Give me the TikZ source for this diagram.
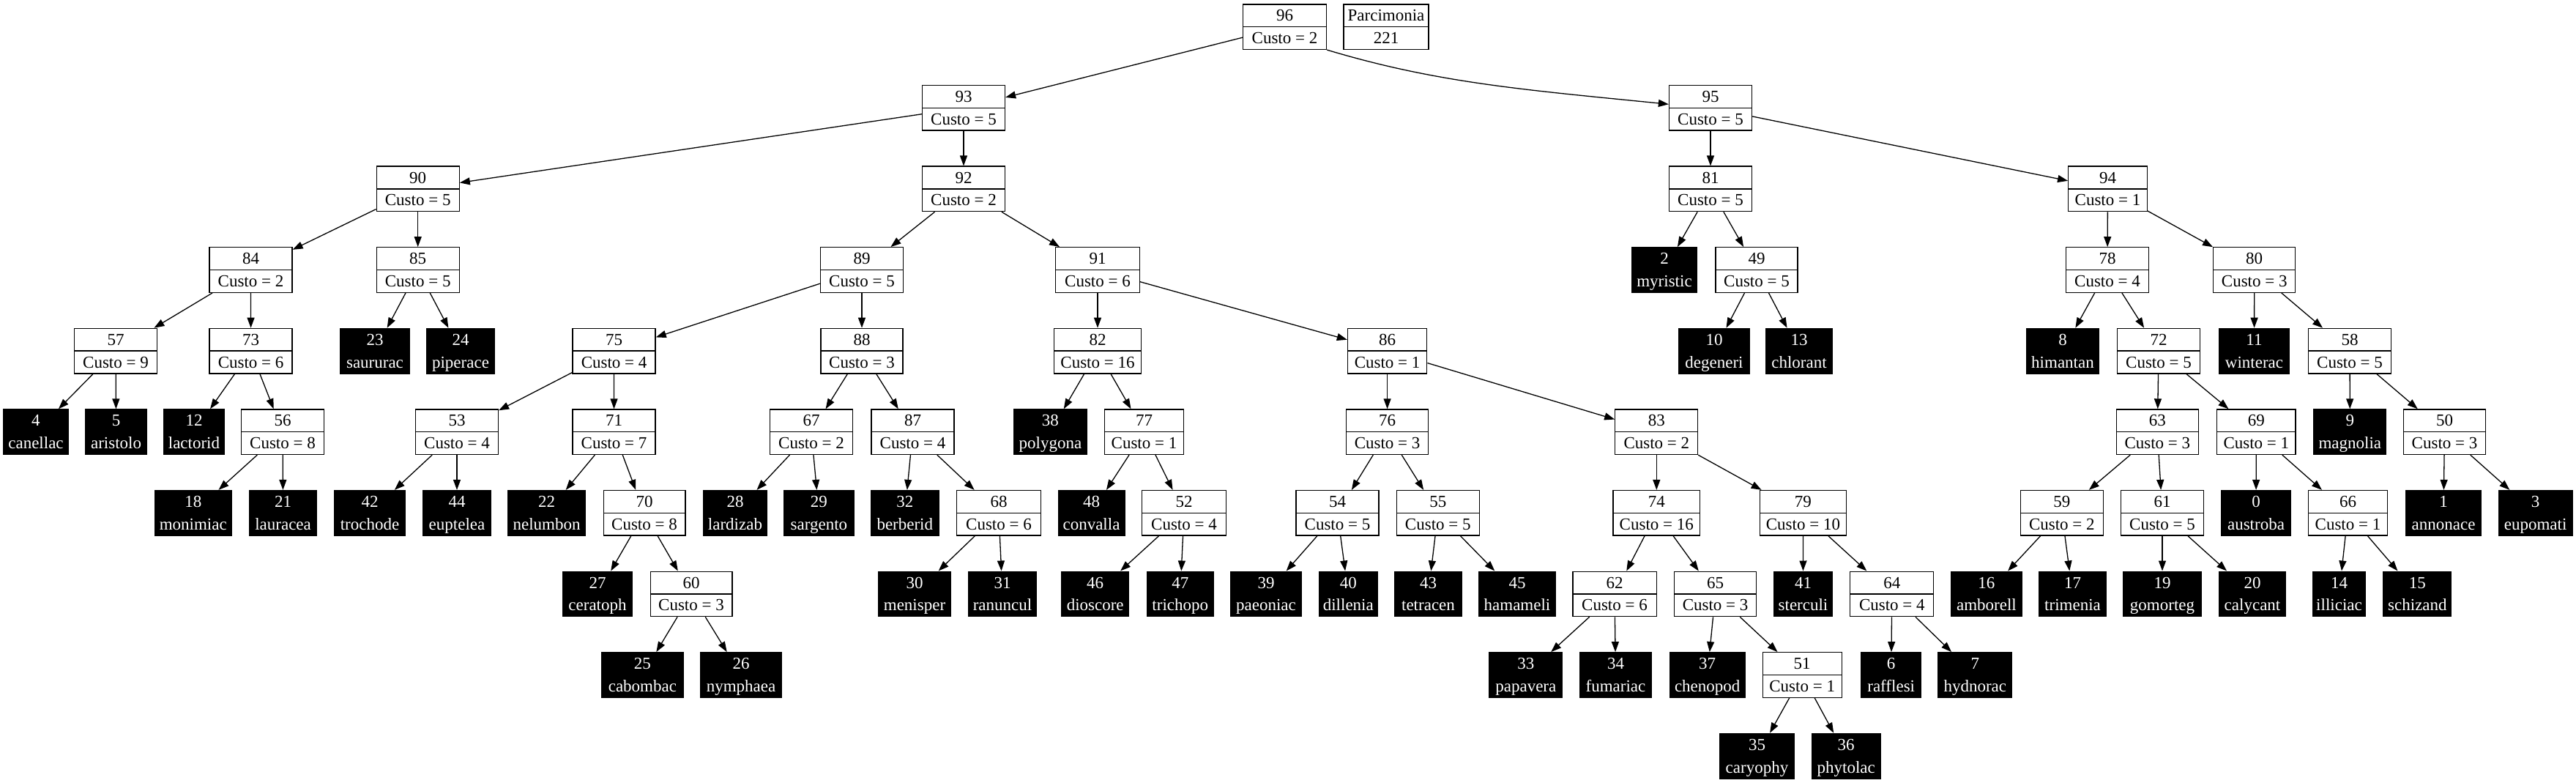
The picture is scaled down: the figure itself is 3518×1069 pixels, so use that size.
\documentclass[tikz,border=0pt]{standalone}
\usepackage{fontspec}
\setmainfont{Liberation Serif}
\usetikzlibrary{arrows.meta}

\begin{document}
\begin{tikzpicture}[x=0.5pt, y=-0.5pt, line width=0.65pt]

	\useasboundingbox (0,0) rectangle (3518,1069);

	\tikzset{
		box/.style={rectangle, draw=black, inner sep=0pt, minimum height=30.75pt,
			align=center, font=\fontsize{11.5}{15.4}\selectfont},
		costbox/.style={box, fill=white,
			path picture={\draw (path picture bounding box.west) -- (path picture bounding box.east);}},
		taxonbox/.style={box, fill=black, text=white},
		branch/.style={-{Triangle[length=7pt, width=5pt]}}
	}

	% --- helper macros (widths in px, levels from the top) ---
	\newcommand{\lvl}[1]{36.7+110.6*#1}
	\newcommand{\twoline}[2]{#1\\\smash{#2}}
	\newcommand{\cnode}[5][113]{\node[costbox, minimum width=#1*0.5pt] (n#2) at (#3,{\lvl{#4}}) {\twoline{#2}{Custo = #5}};}
	\newcommand{\tnode}[5]{\node[taxonbox, minimum width=#4*0.5pt] (n#1) at (#2,{\lvl{#3}}) {\twoline{#1}{#5}};}

	% level 0
	\cnode[114]{96}{1754.5}{0}{2}
	\node[costbox, minimum width=116*0.5pt] (parc) at (1893,{\lvl{0}}) {\twoline{Parcimonia}{221}};

	% level 1
	\cnode{93}{1316}{1}{5}
	\cnode{95}{2336}{1}{5}

	% level 2
	\cnode{90}{570.7}{2}{5}
	\cnode{92}{1316}{2}{2}
	\cnode{81}{2336}{2}{5}
	\cnode[107.6]{94}{2878.5}{2}{1}

	% level 3
	\cnode{84}{342.5}{3}{2}
	\cnode{85}{570.7}{3}{5}
	\cnode{89}{1177}{3}{5}
	\cnode[114.7]{91}{1499}{3}{6}
	\tnode{2}{2273}{3}{88.7}{myristic}
	\cnode[112]{49}{2399}{3}{5}
	\cnode{78}{2878}{3}{4}
	\cnode[112]{80}{3078.7}{3}{3}

	% level 4
	\cnode{57}{158}{4}{9}
	\cnode{73}{342.6}{4}{6}
	\tnode{23}{512}{4}{94}{saururac}
	\tnode{24}{629}{4}{92.5}{piperace}
	\cnode{75}{838.6}{4}{4}
	\cnode[112]{88}{1177}{4}{3}
	\cnode[118.5]{82}{1499}{4}{16}
	\cnode[108.3]{86}{1894.6}{4}{1}
	\tnode{10}{2341}{4}{96}{degeneri}
	\tnode{13}{2457}{4}{90.4}{chlorant}
	\tnode{8}{2817}{4}{99.4}{himantan}
	\cnode{72}{2948}{4}{5}
	\tnode{11}{3078.5}{4}{95.2}{winterac}
	\cnode{58}{3209}{4}{5}

	% level 5
	\tnode{4}{49}{5}{89.2}{canellac}
	\tnode{5}{158.6}{5}{83}{aristolo}
	\tnode{12}{265}{5}{83.5}{lactorid}
	\cnode[112.4]{56}{386}{5}{8}
	\cnode{53}{624}{5}{4}
	\cnode{71}{838.5}{5}{7}
	\cnode{67}{1108}{5}{2}
	\cnode{87}{1246.5}{5}{4}
	\tnode{38}{1434.4}{5}{100.4}{polygona}
	\cnode[107.6]{77}{1562.5}{5}{1}
	\cnode[112]{76}{1894.6}{5}{3}
	\cnode{83}{2262.3}{5}{2}
	\cnode[112]{63}{2946.3}{5}{3}
	\cnode[107.6]{69}{3081.3}{5}{1}
	\tnode{9}{3209.3}{5}{98.9}{magnolia}
	\cnode[111.4]{50}{3338.5}{5}{3}

	% level 6
	\tnode{18}{263.8}{6}{104.6}{monimiac}
	\tnode{21}{386.6}{6}{92.2}{lauracea}
	\tnode{42}{505}{6}{96.7}{trochode}
	\tnode{44}{624}{6}{93.3}{euptelea}
	\tnode{22}{746.6}{6}{106.1}{nelumbon}
	\cnode[111.7]{70}{880}{6}{8}
	\tnode{28}{1004}{6}{87.3}{lardizab}
	\tnode{29}{1118.4}{6}{95.5}{sargento}
	\tnode{32}{1235.8}{6}{92.2}{berberid}
	\cnode[114.4]{68}{1364}{6}{6}
	\tnode{48}{1490.5}{6}{90.7}{convalla}
	\cnode[114.4]{52}{1617}{6}{4}
	\cnode{54}{1826.5}{6}{5}
	\cnode{55}{1963.8}{6}{5}
	\cnode[118.6]{74}{2262.3}{6}{16}
	\cnode[118.5]{79}{2462.4}{6}{10}
	\cnode{59}{2815.8}{6}{2}
	\cnode{61}{2953}{6}{5}
	\tnode{0}{3081}{6}{95.2}{austroba}
	\cnode[107.6]{66}{3206.5}{6}{1}
	\tnode{1}{3337}{6}{103.6}{annonace}
	\tnode{3}{3462.6}{6}{100.9}{eupomati}

	% level 7
	\tnode{27}{816}{7}{95.2}{ceratoph}
	\cnode[111.7]{60}{944}{7}{3}
	\tnode{30}{1249}{7}{99.3}{menisper}
	\tnode{31}{1369}{7}{92.5}{ranuncul}
	\tnode{46}{1495.7}{7}{92.1}{dioscore}
	\tnode{47}{1611.8}{7}{91}{trichopo}
	\tnode{39}{1729}{7}{96.6}{paeoniac}
	\tnode{40}{1841.3}{7}{79.4}{dillenia}
	\tnode{43}{1950.5}{7}{91.5}{tetracen}
	\tnode{45}{2072}{7}{104.1}{hamameli}
	\cnode[114.3]{62}{2205}{7}{6}
	\cnode[112]{65}{2342.6}{7}{3}
	\tnode{41}{2462.5}{7}{80.5}{sterculi}
	\cnode[114]{64}{2583.8}{7}{4}
	\tnode{16}{2712.9}{7}{96.7}{amborell}
	\tnode{17}{2830.5}{7}{91.1}{trimenia}
	\tnode{19}{2953}{7}{107.2}{gomorteg}
	\tnode{20}{3076}{7}{91.1}{calycant}
	\tnode{14}{3194.5}{7}{72.4}{illiciac}
	\tnode{15}{3301.4}{7}{92.6}{schizand}

	% level 8
	\tnode{25}{877.4}{8}{111}{cabombac}
	\tnode{26}{1012}{8}{111.4}{nymphaea}
	\tnode{33}{2083.8}{8}{100}{papavera}
	\tnode{34}{2206.5}{8}{97.9}{fumariac}
	\tnode{37}{2331.7}{8}{102.9}{chenopod}
	\cnode[108]{51}{2461.2}{8}{1}
	\tnode{6}{2582.7}{8}{81.6}{rafflesi}
	\tnode{7}{2697.3}{8}{100.8}{hydnorac}

	% level 9
	\tnode{35}{2399.5}{9}{102}{caryophy}
	\tnode{36}{2521.2}{9}{94}{phytolac}

	% --- branches ---
	\foreach \pn/\cn in {96/93, 93/90, 93/92, 90/84, 90/85, 84/57, 84/73, 57/4, 57/5,
		73/12, 73/56, 56/18, 56/21, 85/23, 85/24, 92/89, 92/91, 89/75, 89/88,
		75/53, 75/71, 53/42, 53/44, 71/22, 71/70, 70/27, 70/60, 60/25, 60/26,
		88/67, 88/87, 67/28, 67/29, 87/32, 87/68, 68/30, 68/31, 91/82, 91/86,
		82/38, 82/77, 77/48, 77/52, 52/46, 52/47, 86/76, 86/83, 76/54, 76/55,
		54/39, 54/40, 55/43, 55/45, 83/74, 83/79, 74/62, 74/65, 62/33, 62/34,
		65/37, 65/51, 51/35, 51/36, 79/41, 79/64, 64/6, 64/7, 95/81, 95/94,
		81/2, 81/49, 49/10, 49/13, 94/78, 94/80, 78/8, 78/72, 72/63, 72/69,
		63/59, 63/61, 59/16, 59/17, 61/19, 61/20, 69/0, 69/66, 66/14, 66/15,
		80/11, 80/58, 58/9, 58/50, 50/1, 50/3}
		\draw[branch] (n\pn) -- (n\cn);

	% root to right subtree bends round the legend
	\draw[branch] (n96.south east) .. controls +(150,45) and +(-200,-20) .. (n95.175);

\end{tikzpicture}
\end{document}
